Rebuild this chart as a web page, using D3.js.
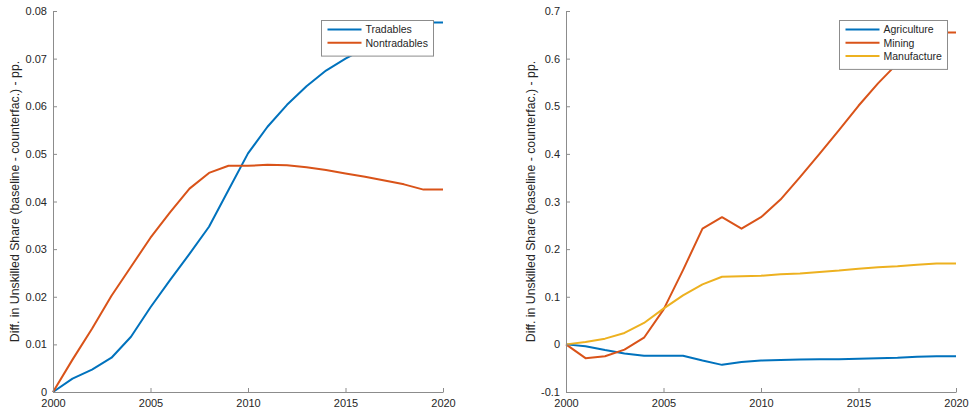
<!DOCTYPE html>
<html><head><meta charset="utf-8">
<script src="https://cdn.jsdelivr.net/npm/d3@7"></script>
<style>
body{margin:0;background:#fff;}
text{font-family:"Liberation Sans",Arial,Helvetica,sans-serif;fill:#262626;}
</style></head>
<body><svg id="c" width="971" height="414"></svg>
<script>
const years = d3.range(2000, 2021);
const tradables = [0,0.0028,0.0047,0.0072,0.0116,0.0178,0.0235,0.0290,0.0347,0.0424,0.0501,0.0557,0.0603,0.0642,0.0675,0.0700,0.0722,0.0740,0.0757,0.0776,0.0776];
const nontradables = [0,0.0068,0.0133,0.0202,0.0263,0.0324,0.0377,0.0427,0.0460,0.0475,0.0475,0.0477,0.0476,0.0472,0.0466,0.0459,0.0452,0.0444,0.0436,0.0425,0.0425];
const agriculture = [0,-0.004,-0.012,-0.019,-0.024,-0.024,-0.024,-0.034,-0.043,-0.037,-0.034,-0.033,-0.032,-0.031,-0.031,-0.030,-0.029,-0.028,-0.026,-0.025,-0.025];
const mining = [0,-0.029,-0.025,-0.011,0.014,0.073,0.156,0.243,0.267,0.243,0.267,0.304,0.351,0.400,0.450,0.501,0.548,0.590,0.629,0.655,0.655];
const manufacture = [0,0.005,0.012,0.024,0.045,0.075,0.103,0.126,0.142,0.143,0.144,0.147,0.149,0.152,0.155,0.159,0.162,0.164,0.167,0.170,0.170];
const xTicks = [2000,2005,2010,2015,2020];
const leftYTicks = [0,0.01,0.02,0.03,0.04,0.05,0.06,0.07,0.08];
const rightYTicks = [-0.1,0,0.1,0.2,0.3,0.4,0.5,0.6,0.7];
const yLabel = "Diff. in Unskilled Share (baseline - counterfac.) - pp.";
const colors = ["#0072BD","#D95319","#EDB120"];

const svg = d3.select("#c");

function panel(opts){
  const x = d3.scaleLinear().domain([2000,2020]).range([opts.x0, opts.x1]);
  const y = d3.scaleLinear().domain(opts.yDomain).range([392, 11]);
  const g = svg.append("g");
  opts.series.forEach((s,i)=>{
    g.append("path").datum(s.values)
      .attr("fill","none").attr("stroke",colors[i]).attr("stroke-width",2)
      .attr("stroke-linejoin","round")
      .attr("d", d3.line().x((d,j)=>x(years[j])).y(d=>y(d)));
  });
  const ax = g.append("g").attr("transform",`translate(0,${y.range()[0]})`)
    .call(d3.axisBottom(x).tickValues(xTicks).tickFormat(d3.format("d")).tickSizeInner(-4).tickSizeOuter(0).tickPadding(7));
  const ay = g.append("g").attr("transform",`translate(${opts.x0},0)`)
    .call(d3.axisLeft(y).tickValues(opts.yTicks).tickFormat(d=>String(+d.toFixed(3))).tickSizeInner(-4).tickSizeOuter(0).tickPadding(6));
  [ax,ay].forEach(a=>{
    a.select(".domain").attr("stroke","#8c8c8c");
    a.selectAll(".tick line").attr("stroke","#8c8c8c");
    a.selectAll("text").attr("font-size",11).attr("fill","#262626")
      .style("font-family","'Liberation Sans',Arial,sans-serif");
  });
  g.append("text").attr("transform",`translate(${opts.labelX},${(11+392)/2}) rotate(-90)`)
    .attr("text-anchor","middle").attr("font-size",12.3).text(yLabel);
  const L = opts.legend;
  const n = opts.series.length;
  g.append("rect").attr("x",L.x).attr("y",L.y).attr("width",L.w).attr("height",11+13.3*n-2)
    .attr("fill","#fff").attr("stroke","#8c8c8c").attr("stroke-width",1);
  opts.series.forEach((s,i)=>{
    const yy = L.y + 9 + i*13.3;
    g.append("line").attr("x1",L.x+6).attr("x2",L.x+40).attr("y1",yy).attr("y2",yy)
      .attr("stroke",colors[i]).attr("stroke-width",2);
    g.append("text").attr("x",L.x+44).attr("y",yy+3.7).attr("font-size",10.5).text(s.name);
  });
}

panel({x0:53, x1:443, yDomain:[0,0.08], yTicks:leftYTicks, labelX:19,
  series:[{name:"Tradables",values:tradables},{name:"Nontradables",values:nontradables}],
  legend:{x:321.5,y:20.5,w:112}});
panel({x0:566, x1:956, yDomain:[-0.1,0.7], yTicks:rightYTicks, labelX:535,
  series:[{name:"Agriculture",values:agriculture},{name:"Mining",values:mining},{name:"Manufacture",values:manufacture}],
  legend:{x:839.5,y:20.5,w:108}});
</script></body></html>
